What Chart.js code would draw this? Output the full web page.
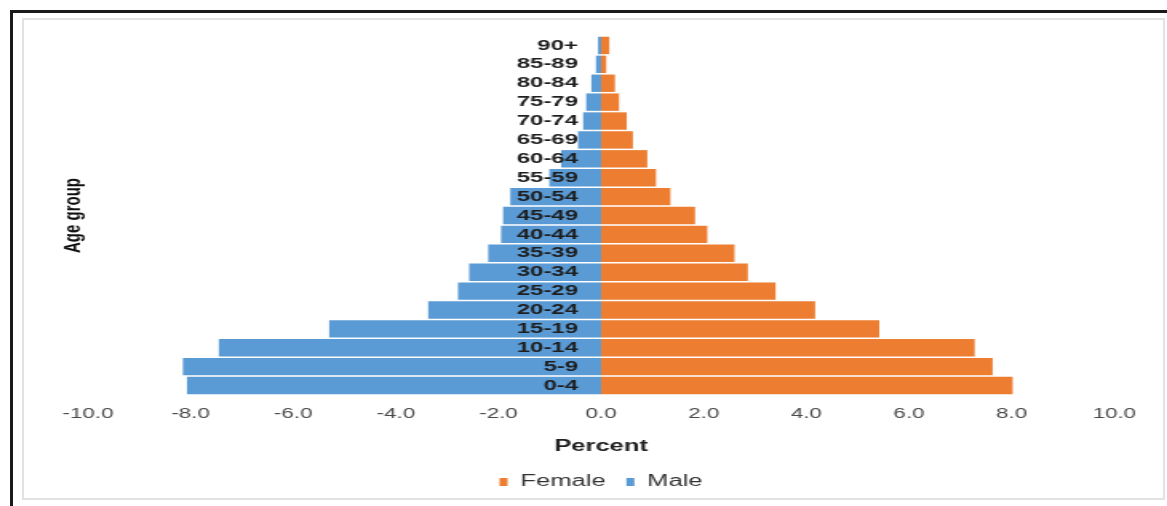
<!DOCTYPE html>
<html>
<head>
<meta charset="utf-8">
<script src="https://cdn.jsdelivr.net/npm/chart.js@4"></script>
<style>
  html, body { margin: 0; padding: 0; background: #fff; }
  #frame {
    position: absolute; left: 10px; top: 10px; right: 0; bottom: 0;
    border-top: 3px solid #1a1a1a; border-left: 3px solid #1a1a1a;
  }
  #panel {
    position: absolute; left: 22px; top: 18px; width: 1139px; height: 478px;
    border: 2px solid #e2e2e2;
  }
  #chart { position: absolute; left: 0; top: 0; }
</style>
</head>
<body>
<div id="frame"></div>
<div id="panel"></div>
<!-- the reference is stretched horizontally, so the canvas is drawn narrow and scaled up -->
<canvas id="chart" width="730" height="506" style="width:1167px;height:506px"></canvas>
<script>
// age groups, top to bottom
const ageGroups = ['90+', '85-89', '80-84', '75-79', '70-74', '65-69', '60-64', '55-59', '50-54',
    '45-49', '40-44', '35-39', '30-34', '25-29', '20-24', '15-19', '10-14', '5-9', '0-4'];

// percent of population, same order as ageGroups
const femalePct = [0.16, 0.10, 0.27, 0.35, 0.50, 0.62, 0.90, 1.07, 1.35,
    1.83, 2.07, 2.60, 2.86, 3.40, 4.17, 5.42, 7.28, 7.63, 8.02];
const malePct = [0.06, 0.10, 0.19, 0.29, 0.35, 0.45, 0.78, 1.01, 1.77,
    1.91, 1.95, 2.20, 2.57, 2.79, 3.37, 5.30, 7.45, 8.15, 8.07];

const xTicks = [-10, -8, -6, -4, -2, 0, 2, 4, 6, 8, 10];

const colors = {
    female: '#ED7D31',
    male: '#5B9BD5',
    text: '#4a4a4a',
};

const font = 'Liberation Sans, Arial, sans-serif';

new Chart(document.getElementById('chart'), {
    type: 'bar',
    data: {
        labels: ageGroups,
        datasets: [
            {
                label: 'Female',
                data: femalePct,
                backgroundColor: colors.female,
                barPercentage: 0.92,
                categoryPercentage: 1
            },
            {
                label: 'Male',
                data: malePct.map(v => -v),
                backgroundColor: colors.male,
                barPercentage: 0.92,
                categoryPercentage: 1
            }
        ]
    },
    options: {
        indexAxis: 'y',
        responsive: false,
        animation: false,
        layout: { padding: { top: 36, left: 37, right: 33, bottom: 6 } },
        plugins: {
            tooltip: { enabled: false },
            legend: {
                position: 'bottom',
                fullSize: false,
                labels: {
                    color: '#333',
                    font: { family: font, size: 16 },
                    boxWidth: 5,
                    boxHeight: 8,
                    padding: 13
                }
            }
        },
        scales: {
            x: {
                stacked: true,
                min: -10,
                max: 10,
                afterBuildTicks: axis => { axis.ticks = xTicks.map(v => ({ value: v })); },
                grid: { display: false, drawTicks: false },
                border: { display: false },
                ticks: {
                    color: colors.text,
                    font: { family: font, size: 14 },
                    padding: 11,
                    maxRotation: 0,
                    autoSkip: false,
                    callback: v => Number(v).toFixed(1)
                },
                title: {
                    display: true,
                    text: 'Percent',
                    color: '#222',
                    font: { family: font, size: 16, weight: 'bold' },
                    padding: { top: 3, bottom: 5 }
                }
            },
            y: {
                stacked: true,
                // labels sit a little left of the zero line, over the bars
                position: { x: -0.45 },
                grid: { display: false, drawTicks: false },
                border: { display: false },
                ticks: {
                    z: 1,
                    color: '#1e1e1e',
                    font: { family: font, size: 15, weight: 'bold' },
                    padding: 0,
                    autoSkip: false
                }
            },
            yTitle: {
                type: 'linear',
                axis: 'y',
                position: 'left',
                grid: { display: false, drawTicks: false },
                border: { display: false },
                ticks: { display: false },
                title: {
                    display: true,
                    text: 'Age group',
                    color: '#111',
                    font: { family: font, size: 15, weight: 'bold' },
                    padding: 0
                }
            }
        }
    }
});
</script>
</body>
</html>
